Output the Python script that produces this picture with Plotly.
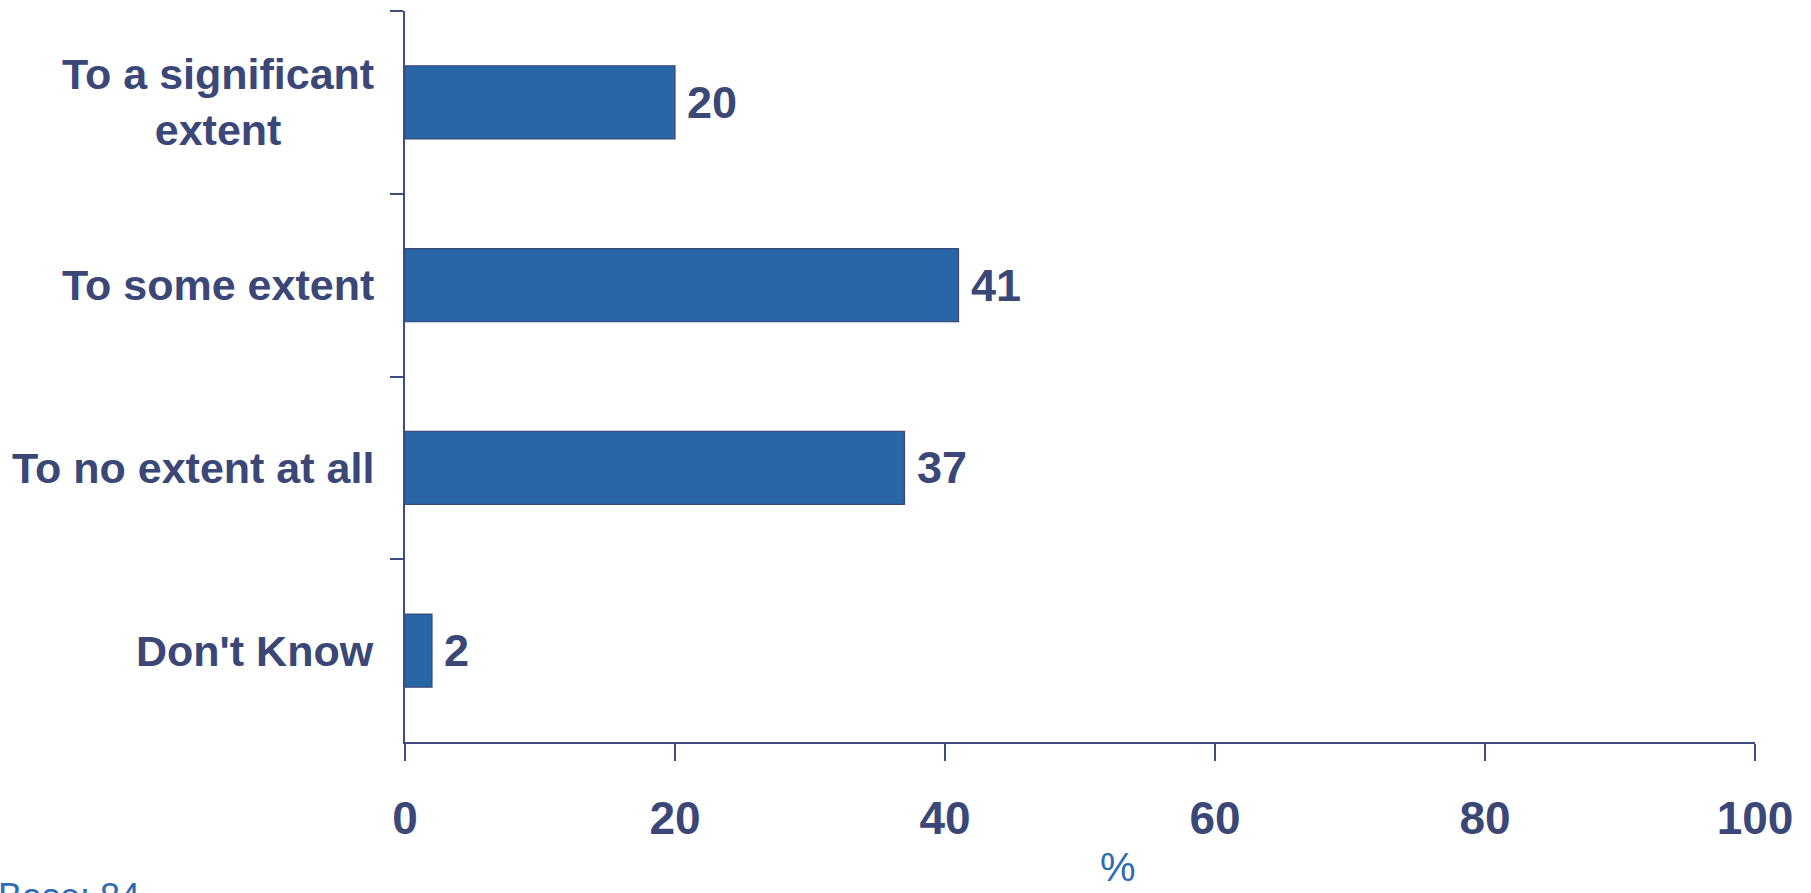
import plotly.graph_objects as go

# Survey responses (% of respondents)
categories = ["To a significant<br>extent", "To some extent", "To no extent at all", "Don't Know"]
values = [20, 41, 37, 2]
x_ticks = [0, 20, 40, 60, 80, 100]
base_note = "Base: 84"
x_title = "%"

NAVY = "#3A4777"
BAR = "#2866A6"
BLUE = "#2E6CB2"
FONT = "Liberation Sans, Arial, sans-serif"

fig = go.Figure()
fig.add_trace(go.Bar(
    x=values,
    y=categories,
    orientation="h",
    marker=dict(color=BAR, line=dict(color="#3B4A7C", width=1.2)),
    hoverinfo="x+y",
))

annotations = []
# value labels to the right of each bar
for cat, v in zip(categories, values):
    annotations.append(dict(
        x=v, y=cat, xref="x", yref="y", text=str(v), showarrow=False,
        xanchor="left", yanchor="middle", xshift=10,
        font=dict(family=FONT, size=45, color=NAVY, weight="bold"),
    ))
# category labels, centred per line, right-aligned against the axis
for cat in categories:
    annotations.append(dict(
        x=0, y=cat, xref="paper", yref="y", text=cat, showarrow=False,
        xanchor="right", yanchor="middle", align="center", xshift=-29,
        font=dict(family=FONT, size=43, color=NAVY, weight="bold"),
    ))
# axis title and base note
annotations.append(dict(
    x=0.528, y=0, xref="paper", yref="paper", text=x_title, showarrow=False,
    xanchor="center", yanchor="bottom", yshift=-149,
    font=dict(family=FONT, size=40, color=BLUE),
))
annotations.append(dict(
    x=-405 / 1350, y=0, xref="paper", yref="paper", text=base_note, showarrow=False,
    xanchor="left", yanchor="top", yshift=-132, xshift=-4,
    font=dict(family=FONT, size=36, color=BLUE),
))

fig.update_layout(
    width=1811, height=893,
    margin=dict(l=405, r=56, t=11, b=151),
    paper_bgcolor="white", plot_bgcolor="white",
    bargap=0.6,
    showlegend=False,
    annotations=annotations,
    xaxis=dict(
        range=[0, 100], tickvals=x_ticks, ticktext=[str(t) for t in x_ticks],
        showgrid=False, zeroline=False,
        showline=True, linecolor="#3F4C7E", linewidth=1.5,
        ticks="outside", ticklen=17, tickwidth=1.5, tickcolor="#3F4C7E",
        ticklabelstandoff=18,
        tickfont=dict(family=FONT, size=46, color=NAVY, weight="bold"),
    ),
    yaxis=dict(
        autorange="reversed",
        showgrid=False, zeroline=False,
        showline=True, linecolor="#3F4C7E", linewidth=1.5,
        ticks="outside", ticklen=13, tickwidth=1.5, tickcolor="#3F4C7E",
        tickson="boundaries",
        showticklabels=False,
    ),
)

fig.write_html("out.html")
